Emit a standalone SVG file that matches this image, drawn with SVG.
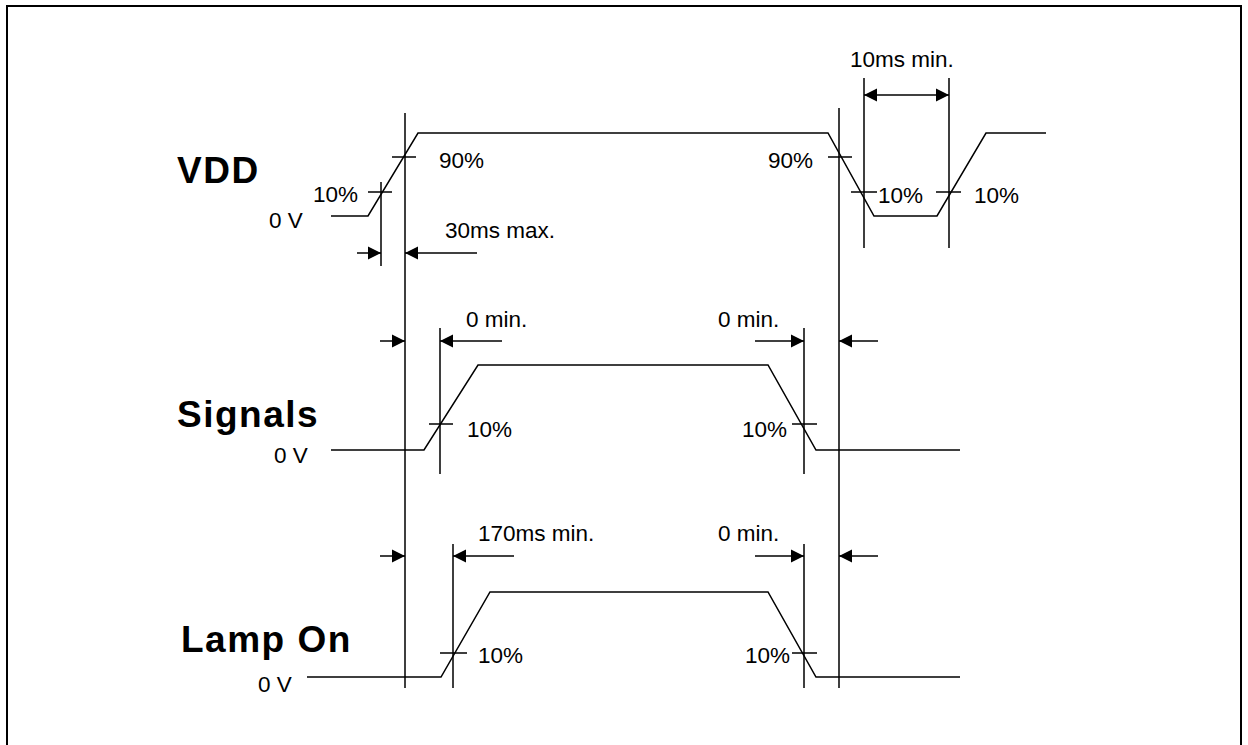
<svg xmlns="http://www.w3.org/2000/svg" width="1248" height="745" viewBox="0 0 1248 745">
<defs>
<marker id="ah" markerUnits="userSpaceOnUse" markerWidth="14" markerHeight="14" viewBox="0 0 14 14" refX="13" refY="7" orient="auto-start-reverse">
<path d="M0,0.5 L13,7 L0,13.5 Z" fill="#000"/>
</marker>
</defs>
<style>
.w{fill:none;stroke:#000;stroke-width:1.5}
.g{fill:none;stroke:#000;stroke-width:1.5}
.a{fill:none;stroke:#000;stroke-width:1.5;marker-end:url(#ah)}
.t{font-family:"Liberation Sans",Arial,sans-serif;font-size:22.5px;fill:#000}
.b{font-family:"Liberation Sans",Arial,sans-serif;font-size:37px;font-weight:bold;letter-spacing:1.5px;fill:#000}
</style>
<rect width="1248" height="745" fill="#fff"/>
<path d="M7,760 L7,6 L1241,6 L1241,760" fill="none" stroke="#000" stroke-width="2"/>

<g id="vdd">
<text class="b" x="177" y="183">VDD</text>
<text class="t" x="269" y="228">0 V</text>
<path class="w" d="M331,216 L368,216 L418,133 L828,133 L874,216 L937,216 L986,133 L1046,133"/>
<path class="g" d="M368,192 L392,192 M392,157 L416,157 M828,157 L852,157 M851,192 L877,192 M936,192 L961,192"/>
<text class="t" x="313" y="202">10%</text>
<text class="t" x="439" y="168">90%</text>
<text class="t" x="813" y="168" text-anchor="end">90%</text>
<text class="t" x="878" y="203">10%</text>
<text class="t" x="974" y="203">10%</text>
<text class="t" x="445" y="238">30ms max.</text>
<text class="t" x="850" y="67">10ms min.</text>
</g>

<g id="signals">
<text class="b" x="177" y="427">Signals</text>
<text class="t" x="274" y="463">0 V</text>
<path class="w" d="M331,450 L424,450 L478,365 L768,365 L816,450 L960,450"/>
<path class="g" d="M429,424 L453,424 M792,424 L817,424"/>
<text class="t" x="467" y="437">10%</text>
<text class="t" x="787" y="437" text-anchor="end">10%</text>
<text class="t" x="466" y="327">0 min.</text>
<text class="t" x="718" y="327">0 min.</text>
</g>

<g id="lamp">
<text class="b" x="181" y="652">Lamp On</text>
<text class="t" x="258" y="692">0 V</text>
<path class="w" d="M307,677 L441,677 L490,592 L768,592 L816,677 L960,677"/>
<path class="g" d="M440,653 L467,653 M792,653 L817,653"/>
<text class="t" x="478" y="663">10%</text>
<text class="t" x="790" y="663" text-anchor="end">10%</text>
<text class="t" x="478" y="541">170ms min.</text>
<text class="t" x="718" y="541">0 min.</text>
</g>

<g id="connectors">
<path class="g" d="M405,113 L405,688 M839,108 L839,688 M381,182 L381,266 M864,78 L864,248 M949,78 L949,248 M440,328 L440,474 M804,328 L804,474 M453,544 L453,688 M804,544 L804,688"/>
<path class="a" d="M357,253 L381,253"/>
<path class="a" d="M477,253 L405,253"/>
<path class="g" d="M864,95 L949,95" style="marker-start:url(#ah);marker-end:url(#ah)"/>
<path class="a" d="M380,341 L405,341"/>
<path class="a" d="M502,341 L440,341"/>
<path class="a" d="M755,341 L804,341"/>
<path class="a" d="M878,341 L839,341"/>
<path class="a" d="M380,556 L405,556"/>
<path class="a" d="M514,556 L453,556"/>
<path class="a" d="M755,556 L804,556"/>
<path class="a" d="M878,556 L839,556"/>
</g>
</svg>
